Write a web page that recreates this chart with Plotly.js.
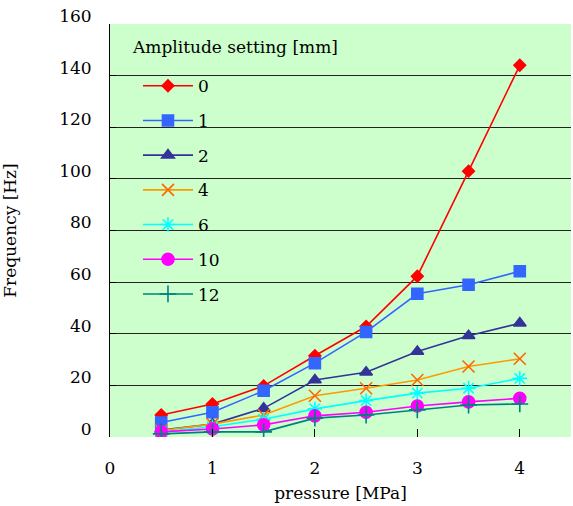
<!DOCTYPE html>
<html><head><meta charset="utf-8">
<script src="https://cdn.plot.ly/plotly-3.0.1.min.js"></script>
<style>html,body{margin:0;padding:0;background:#fff;}#c{width:573px;height:506px;}</style>
</head><body><div id="c"></div>
<script>
const pressure = [0.5, 1, 1.5, 2, 2.5, 3, 3.5, 4];
const amplitudes = ['0', '1', '2', '4', '6', '10', '12'];
const freq0  = [8.5, 12.8, 19.8, 31.5, 42.8, 62.3, 103, 144];
const freq1  = [5.6, 9.6, 17.9, 28.6, 40.7, 55.5, 59, 64.2];
const freq2  = [2.7, 5.0, 11.1, 22.1, 25.1, 33.1, 39.2, 44.1];
const freq4  = [2.5, 5.0, 8.5, 16.0, 18.9, 22.1, 27.3, 30.3];
const freq6  = [2.0, 4.0, 6.9, 10.9, 14.1, 17.0, 18.9, 22.7];
const freq10 = [2.0, 3.1, 4.7, 8.2, 9.6, 12.0, 13.6, 15.0];
const freq12 = [1.2, 2.0, 2.0, 7.3, 8.5, 10.5, 12.4, 12.8];
const yTicks = [0, 20, 40, 60, 80, 100, 120, 140, 160];
const xTicks = [0, 1, 2, 3, 4];

const series = [freq0, freq1, freq2, freq4, freq6, freq10, freq12];
const colors = ['#ff0000', '#3366ff', '#333399', '#ff9900', '#00ffff', '#ff00ff', '#008080'];
const symbols = ['diamond', 'square', 'triangle-up', 'x-thin-open', 'asterisk-open', 'circle', 'cross-thin-open'];
const markerColors = ['#ff0000', '#3366ff', '#333399', '#ff6600', '#00ffff', '#ff00ff', '#008080'];
const sizes = [9, 11, 11, 12, 12, 12, 12];

const traces = series.map((ys, i) => ({
  x: pressure, y: ys, name: amplitudes[i], type: 'scatter', mode: 'lines+markers',
  legendgroup: 'g' + i,
  line: {color: colors[i], width: 1.6},
  marker: {symbol: symbols[i], size: sizes[i], color: markerColors[i],
           line: {color: markerColors[i], width: 1.6}}
}));

const FAM = 'DejaVu Serif';
const FS = 17;
const font = {family: FAM, color: '#000', size: FS};

Plotly.newPlot('c', traces, {
  width: 573, height: 506,
  margin: {l: 110, r: 2, t: 24, b: 69},
  paper_bgcolor: '#ffffff',
  plot_bgcolor: '#ccffcc',
  font: font,
  showlegend: true,
  legend: {
    x: 0.0607, y: 0.893, xanchor: 'left', yanchor: 'top',
    bgcolor: 'rgba(0,0,0,0)', borderwidth: 0,
    font: {family: FAM, size: FS, color: '#000'}, tracegroupgap: 9.6, itemwidth: 50
  },
  annotations: [{
    text: 'Amplitude setting [mm]', xref: 'paper', yref: 'paper',
    x: (130 - 110) / 461, y: (437 - 47) / 413, xanchor: 'left', yanchor: 'middle',
    showarrow: false, font: {family: FAM, size: FS, color: '#000'}
  }],
  xaxis: {
    range: [0, 4.5], tickvals: xTicks, ticktext: xTicks.map(String),
    tickfont: {family: FAM, size: FS, color: '#000'},
    showgrid: false, zeroline: false, showline: false,
    ticks: 'inside', ticklen: 8, tickcolor: '#000',
    ticklabelstandoff: 19,
    title: {text: 'pressure [MPa]', font: {family: FAM, size: FS, color: '#000'}, standoff: 10}
  },
  yaxis: {
    range: [0, 160], tickvals: yTicks, ticktext: yTicks.map(String),
    tickfont: {family: FAM, size: FS, color: '#000'},
    showgrid: true, gridcolor: '#222', gridwidth: 1,
    zeroline: false, showline: true, linecolor: '#000', linewidth: 1,
    ticks: 'inside', ticklen: 6, tickcolor: '#000',
    ticklabelstandoff: 14, ticklabelshift: -8,
    title: {text: 'Frequency [Hz]', font: {family: FAM, size: FS, color: '#000'}, standoff: 60}
  }
}, {staticPlot: true, displayModeBar: false});
</script>
</body></html>
